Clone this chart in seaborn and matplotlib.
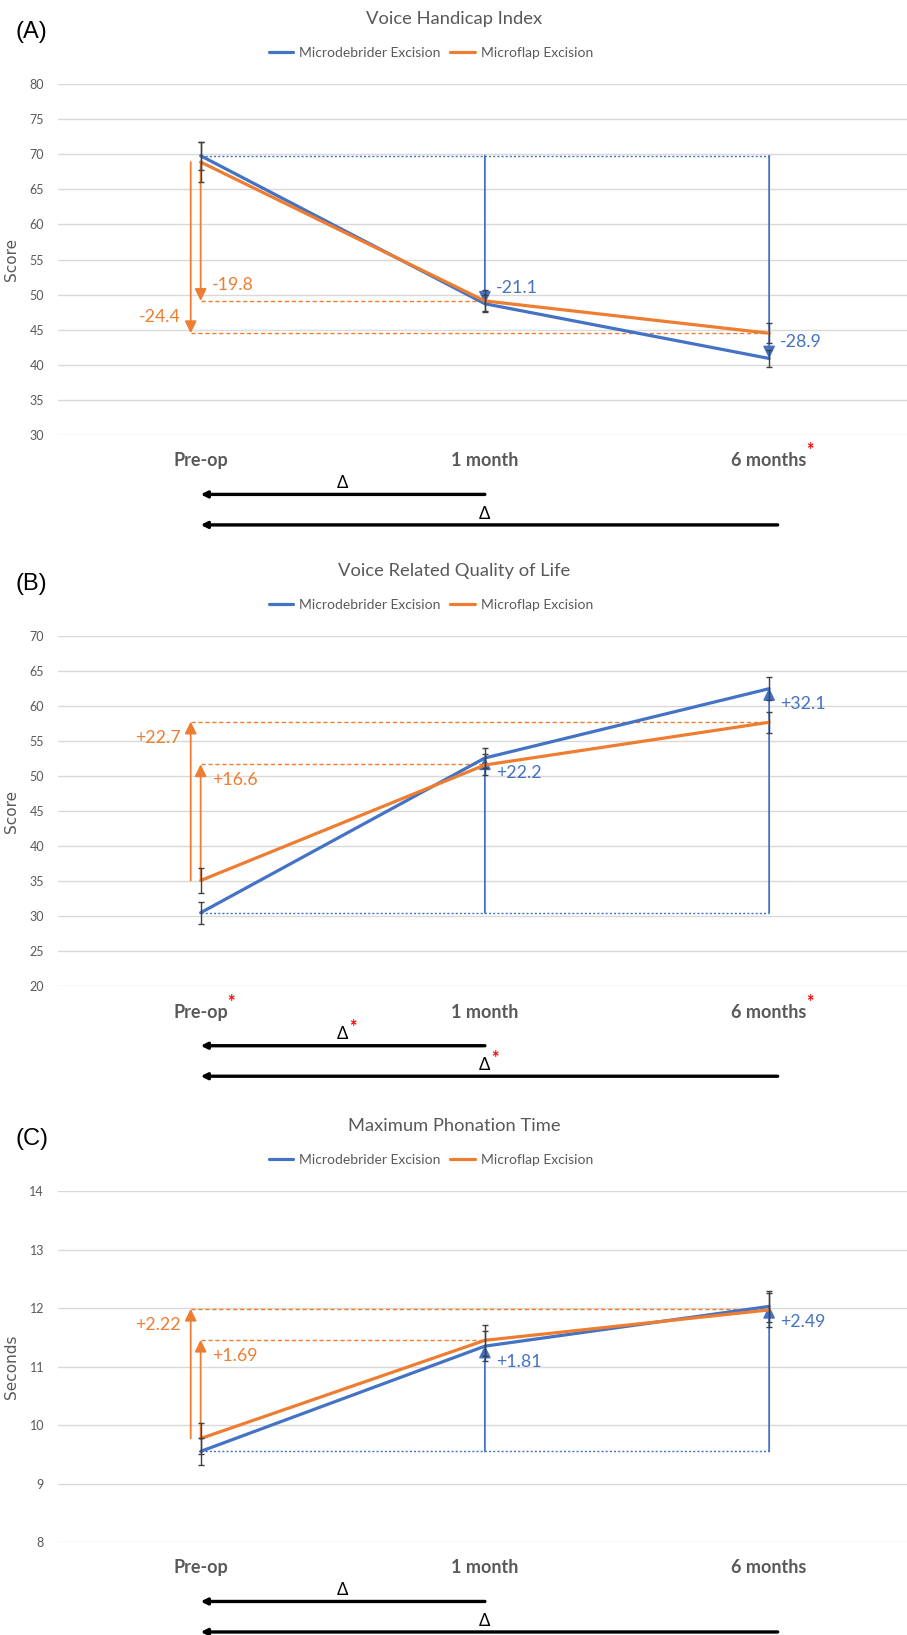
import matplotlib
matplotlib.use('Agg')
import matplotlib.pyplot as plt
import matplotlib.transforms as mtransforms
import numpy as np
import pandas as pd
import seaborn as sns

sns.set_theme(style='white')
plt.rcParams['font.family'] = ['Lato', 'DejaVu Sans']

timepoints = ['Pre-op', '1 month', '6 months']
groups = ['Microdebrider Excision', 'Microflap Excision']
palette = {'Microdebrider Excision': '#4472C4', 'Microflap Excision': '#ED7D31'}

# (A) Voice Handicap Index
vhi_debrider = [69.8, 48.7, 40.9]
vhi_microflap = [68.9, 49.1, 44.5]
vhi_debrider_err = [2.0, 1.2, 1.25]
vhi_microflap_err = [2.8, 1.5, 1.4]
vhi_debrider_delta = [-21.1, -28.9]   # 1 month, 6 months
vhi_microflap_delta = [-19.8, -24.4]

# (B) Voice Related Quality of Life
vrqol_debrider = [30.5, 52.6, 62.5]
vrqol_microflap = [35.1, 51.6, 57.7]
vrqol_debrider_err = [1.55, 1.4, 1.6]
vrqol_microflap_err = [1.75, 1.5, 1.5]
vrqol_debrider_delta = [22.2, 32.1]
vrqol_microflap_delta = [16.6, 22.7]

# (C) Maximum Phonation Time
mpt_debrider = [9.55, 11.35, 12.03]
mpt_microflap = [9.77, 11.45, 11.97]
mpt_debrider_err = [0.23, 0.26, 0.27]
mpt_microflap_err = [0.27, 0.27, 0.29]
mpt_debrider_delta = [1.81, 2.49]
mpt_microflap_delta = [1.69, 2.22]

panels = [
    dict(letter='(A)', title='Voice Handicap Index', ylabel='Score', ylim=(30, 80), step=5,
         deb=vhi_debrider, mf=vhi_microflap, deb_err=vhi_debrider_err, mf_err=vhi_microflap_err,
         deb_delta=vhi_debrider_delta, mf_delta=vhi_microflap_delta, fmt='{:+.1f}',
         star_ticks=['6 months'], star_delta=False, rect=[0.0639, 0.7340, 0.9361, 0.2145]),
    dict(letter='(B)', title='Voice Related Quality of Life', ylabel='Score', ylim=(20, 70), step=5,
         deb=vrqol_debrider, mf=vrqol_microflap, deb_err=vrqol_debrider_err, mf_err=vrqol_microflap_err,
         deb_delta=vrqol_debrider_delta, mf_delta=vrqol_microflap_delta, fmt='{:+.1f}',
         star_ticks=['Pre-op', '6 months'], star_delta=True, rect=[0.0639, 0.3968, 0.9361, 0.2141]),
    dict(letter='(C)', title='Maximum Phonation Time', ylabel='Seconds', ylim=(8, 14), step=1,
         deb=mpt_debrider, mf=mpt_microflap, deb_err=mpt_debrider_err, mf_err=mpt_microflap_err,
         deb_delta=mpt_debrider_delta, mf_delta=mpt_microflap_delta, fmt='{:+.2f}',
         star_ticks=[], star_delta=False, rect=[0.0639, 0.0569, 0.9361, 0.2145]),
]

fig = plt.figure(figsize=(9.07, 16.35), dpi=100)
pos = np.arange(len(timepoints))
blue, orange = palette[groups[0]], palette[groups[1]]
gray = '#595959'
star_jobs = []

for p in panels:
    ax = fig.add_axes(p['rect'])
    h_px = p['rect'][3] * fig.get_figheight() * fig.dpi

    def fy(px):  # pixel offset above axes top / below bottom -> axes fraction
        return px / h_px

    df = pd.DataFrame({'pos': np.concatenate([pos, pos]),
                       'value': p['deb'] + p['mf'],
                       'group': [groups[0]] * 3 + [groups[1]] * 3})

    # reference lines and delta arrows
    base_b = p['deb'][0]
    base_o = p['mf'][0]
    ax.plot([0, 2], [base_b, base_b], color=blue, lw=1, ls=(0, (1.5, 1.5)), zorder=2)
    ax.plot([0, 1], [base_o + p['mf_delta'][0]] * 2, color=orange, lw=1, ls=(0, (3, 2)), zorder=2)
    ax.plot([-0.035, 2], [base_o + p['mf_delta'][1]] * 2, color=orange, lw=1, ls=(0, (3, 2)), zorder=2)

    arrows = [(1, base_b, p['deb_delta'][0], blue, 'left'),
              (2, base_b, p['deb_delta'][1], blue, 'left'),
              (0, base_o, p['mf_delta'][0], orange, 'left'),
              (-0.035, base_o, p['mf_delta'][1], orange, 'right')]
    for x, base, d, c, side in arrows:
        tip = base + d
        ax.annotate('', xy=(x, tip), xytext=(x, base),
                    arrowprops=dict(arrowstyle='-|>,head_length=0.55,head_width=0.27', color=c,
                                    lw=1.3, mutation_scale=13, shrinkA=0, shrinkB=0), zorder=3)
        dx = 8 if side == 'left' else -7
        dy = -11.5 * np.sign(d)
        ax.annotate(p['fmt'].format(d), xy=(x, tip), xytext=(dx, dy), textcoords='offset points',
                    ha=side, va='center', color=c, fontsize=12.8)

    sns.lineplot(data=df, x='pos', y='value', hue='group', palette=palette, linewidth=2.3,
                 sort=False, ax=ax, zorder=4)
    ax.errorbar(pos, p['deb'], yerr=p['deb_err'], fmt='none', ecolor='#404040', elinewidth=1,
                capsize=2.5, capthick=1, zorder=5)
    ax.errorbar(pos, p['mf'], yerr=p['mf_err'], fmt='none', ecolor='#404040', elinewidth=1,
                capsize=2.5, capthick=1, zorder=5)

    # axes styling
    ax.set_xlim(-0.502, 2.485)
    ax.set_ylim(*p['ylim'])
    ax.set_yticks(np.arange(p['ylim'][0], p['ylim'][1] + 0.01, p['step']))
    ax.set_xticks(pos)
    ax.set_xticklabels(timepoints, fontweight='bold', fontsize=13, color=gray)
    ax.tick_params(axis='x', length=0, pad=12.5)
    ax.tick_params(axis='y', length=0, pad=10, labelsize=9, labelcolor=gray)
    ax.yaxis.grid(True, color='#D9D9D9', lw=1)
    ax.xaxis.grid(False)
    ax.set_axisbelow(True)
    for s in ax.spines.values():
        s.set_visible(False)
    ax.set_xlabel('')
    ax.set_ylabel(p['ylabel'], family='DejaVu Sans', fontsize=11, color=gray)
    ax.yaxis.set_label_coords(-0.046, 0.5)

    ax.text(0.4664, 1 + fy(65), p['title'], transform=ax.transAxes, ha='center', va='center',
            fontsize=13.2, color=gray)
    ax.text(-0.031, 1 + fy(52), p['letter'], transform=ax.transAxes, ha='center', va='center',
            fontsize=17, color='black', family='Liberation Sans')
    handles, labels = ax.get_legend_handles_labels()
    ax.legend(handles, labels, loc='center', bbox_to_anchor=(0.4393, 1 + fy(31)), ncol=2,
              frameon=False, fontsize=10, handlelength=1.75, handletextpad=0.45,
              columnspacing=0.7, labelcolor=gray)

    # time-interval arrows under the axis
    trans = mtransforms.blended_transform_factory(ax.transData, ax.transAxes)
    for x_end, y_arrow, y_delta in [(1, -fy(59.5), -fy(48)), (2.03, -fy(90), -fy(79))]:
        ax.annotate('', xy=(0, y_arrow), xytext=(x_end, y_arrow), xycoords=trans,
                    arrowprops=dict(arrowstyle='-|>', color='black', lw=2.4, mutation_scale=9,
                                    shrinkA=0, shrinkB=0), annotation_clip=False)
        xm = 0.5 if x_end == 1 else 1.0
        ax.text(xm, y_delta, 'Δ', transform=trans, ha='center', va='center', fontsize=12,
                color='black')
        if p['star_delta']:
            ax.annotate('*', xy=(xm, y_delta), xycoords=trans, xytext=(7, 5),
                        textcoords='offset points', ha='center', va='center', color='red',
                        fontsize=13, fontweight='bold', annotation_clip=False)

    for lab in ax.get_xticklabels():
        if lab.get_text() in p['star_ticks']:
            star_jobs.append((ax, lab))

fig.canvas.draw()
renderer = fig.canvas.get_renderer()
for ax, lab in star_jobs:
    bb = lab.get_window_extent(renderer)
    ax.annotate('*', xy=(bb.x1, bb.y1), xycoords='figure pixels', xytext=(2, 1),
                textcoords='offset points', ha='center', va='center', color='red',
                fontsize=13, fontweight='bold', annotation_clip=False)

fig.savefig('out.png', dpi=100)
